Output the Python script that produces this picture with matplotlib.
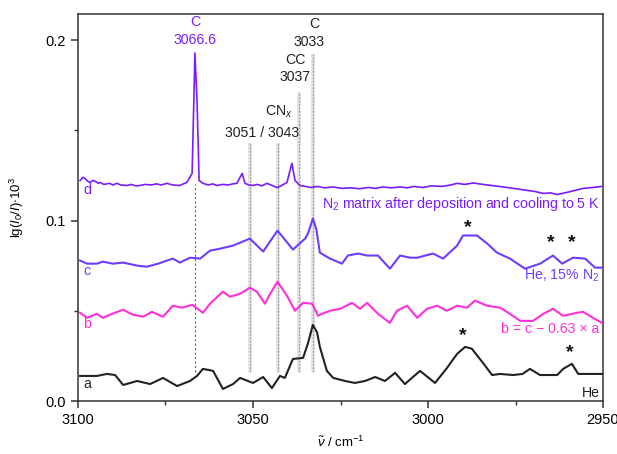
import numpy as np
import matplotlib
matplotlib.use("Agg")
import matplotlib.pyplot as plt
from matplotlib.ticker import MultipleLocator, FuncFormatter

plt.rcParams['font.family'] = ['Liberation Sans', 'DejaVu Sans']
plt.rcParams['mathtext.fontset'] = 'custom'
plt.rcParams['mathtext.rm'] = 'Liberation Sans'
plt.rcParams['mathtext.it'] = 'Liberation Sans:italic'

# trace a: He
wn_a = [3099.4, 3094.6, 3091.7, 3089.4, 3087.1, 3083.1, 3079.4, 3075.7, 3071.7, 3068.0,
        3066.0, 3064.3, 3061.4, 3058.6, 3055.7, 3053.7, 3050.0, 3047.1, 3044.6, 3042.3,
        3040.9, 3038.6, 3035.7, 3034.3, 3032.9, 3031.7, 3030.9, 3028.9, 3027.1, 3023.7,
        3020.9, 3018.0, 3015.1, 3012.3, 3009.4, 3006.6, 3002.3, 2998.0, 2994.6, 2991.7,
        2989.4, 2987.5, 2984.3, 2981.7, 2979.4, 2975.7, 2973.0, 2970.9, 2968.0, 2963.1,
        2961.4, 2958.9, 2957.1, 2953.7, 2950.3]
abs_a = [0.0139, 0.0139, 0.0150, 0.0144, 0.0089, 0.0111, 0.0094, 0.0128, 0.0083, 0.0111,
         0.0139, 0.0178, 0.0167, 0.0067, 0.0094, 0.0128, 0.0100, 0.0133, 0.0072, 0.0139,
         0.0128, 0.0233, 0.0239, 0.0320, 0.0422, 0.0380, 0.0300, 0.0167, 0.0128, 0.0111,
         0.0100, 0.0111, 0.0133, 0.0111, 0.0156, 0.0094, 0.0167, 0.0100, 0.0183, 0.0261,
         0.0300, 0.0290, 0.0211, 0.0144, 0.0150, 0.0144, 0.0150, 0.0178, 0.0144, 0.0144,
         0.0178, 0.0206, 0.0150, 0.0150, 0.0150]

# trace b = c - 0.63 * a
wn_b = [3099.4, 3097.4, 3094.6, 3092.9, 3090.9, 3087.1, 3084.3, 3081.4, 3078.9, 3075.7,
        3072.9, 3070.3, 3067.4, 3064.3, 3062.3, 3058.6, 3056.6, 3053.7, 3050.9, 3048.9,
        3046.6, 3045.1, 3043.0, 3040.3, 3038.0, 3035.7, 3033.1, 3031.4, 3030.3, 3028.0,
        3025.1, 3021.7, 3019.4, 3017.4, 3014.3, 3010.9, 3008.9, 3006.0, 3003.1, 3000.3,
        2997.4, 2994.6, 2991.7, 2988.9, 2986.6, 2983.1, 2979.4, 2976.6, 2973.7, 2970.0,
        2967.1, 2964.3, 2961.4, 2957.4, 2955.7, 2952.9, 2950.3]
abs_b = [0.0489, 0.0461, 0.0483, 0.0461, 0.0478, 0.0506, 0.0478, 0.0467, 0.0494, 0.0467,
         0.0528, 0.0517, 0.0533, 0.0489, 0.0539, 0.0606, 0.0578, 0.0594, 0.0628, 0.0606,
         0.0539, 0.0594, 0.0661, 0.0583, 0.0500, 0.0544, 0.0539, 0.0472, 0.0483, 0.0500,
         0.0511, 0.0544, 0.0511, 0.0544, 0.0483, 0.0433, 0.0500, 0.0528, 0.0461, 0.0511,
         0.0528, 0.0500, 0.0528, 0.0517, 0.0556, 0.0528, 0.0517, 0.0483, 0.0444, 0.0444,
         0.0483, 0.0511, 0.0472, 0.0489, 0.0494, 0.0461, 0.0433]

# trace c: He, 15% N2
wn_c = [3099.4, 3097.4, 3094.6, 3092.9, 3090.0, 3087.1, 3083.1, 3080.3, 3077.1, 3074.6,
        3072.9, 3070.9, 3068.0, 3065.1, 3062.3, 3059.4, 3055.7, 3050.9, 3047.1, 3043.0,
        3038.6, 3035.1, 3034.3, 3033.5, 3032.9, 3031.9, 3030.9, 3028.0, 3024.6, 3022.9,
        3020.0, 3017.4, 3014.3, 3010.9, 3008.0, 3005.1, 3003.1, 2998.6, 2995.7, 2991.7,
        2990.0, 2986.0, 2983.1, 2980.3, 2976.6, 2972.3, 2968.0, 2964.3, 2961.7, 2958.6,
        2955.1, 2952.3, 2950.3]
abs_c = [0.0778, 0.0761, 0.0761, 0.0772, 0.0761, 0.0767, 0.0750, 0.0744, 0.0761, 0.0778,
         0.0789, 0.0767, 0.0794, 0.0789, 0.0833, 0.0844, 0.0861, 0.0900, 0.0828, 0.0944,
         0.0839, 0.0900, 0.0928, 0.0975, 0.1011, 0.0950, 0.0822, 0.0789, 0.0761, 0.0806,
         0.0817, 0.0806, 0.0806, 0.0733, 0.0806, 0.0794, 0.0794, 0.0817, 0.0789, 0.0861,
         0.0917, 0.0917, 0.0872, 0.0822, 0.0789, 0.0733, 0.0761, 0.0806, 0.0761, 0.0794,
         0.0789, 0.0739, 0.0739]

# trace d: N2 matrix after deposition
wn_d = [3099.4, 3098.6, 3098.0, 3097.2, 3096.6, 3095.8, 3095.0, 3094.2, 3093.7, 3092.6,
        3091.0, 3090.0, 3088.9, 3087.8, 3086.0, 3084.8, 3083.5, 3082.3, 3080.9, 3079.0,
        3077.6, 3076.2, 3074.6, 3073.0, 3071.0, 3069.9, 3068.9, 3067.4, 3066.9, 3066.6,
        3066.0, 3065.4, 3064.3, 3062.8, 3061.5, 3060.3, 3058.8, 3057.0, 3055.8, 3054.6,
        3053.1, 3052.3, 3051.2, 3050.0, 3048.8, 3047.5, 3046.0, 3044.5, 3043.2, 3042.3,
        3040.3, 3038.9, 3038.0, 3036.6, 3035.0, 3033.4, 3031.7, 3029.5, 3027.0, 3024.6,
        3022.0, 3019.5, 3017.0, 3015.0, 3013.0, 3010.5, 3008.0, 3006.0, 3004.0, 3001.5,
        2999.0, 2996.0, 2993.5, 2991.7, 2989.5, 2987.1, 2984.3, 2981.0, 2977.4, 2974.5,
        2971.7, 2969.5, 2967.1, 2965.0, 2963.1, 2960.3, 2958.0, 2955.7, 2952.9, 2950.3]
abs_d = [0.1222, 0.1239, 0.1233, 0.1217, 0.1211, 0.1222, 0.1217, 0.1206, 0.1211, 0.1200,
         0.1206, 0.1197, 0.1206, 0.1197, 0.1194, 0.1200, 0.1192, 0.1194, 0.1200, 0.1197,
         0.1203, 0.1197, 0.1206, 0.1197, 0.1194, 0.1203, 0.1211, 0.1261, 0.1667, 0.1928,
         0.1667, 0.1222, 0.1206, 0.1197, 0.1203, 0.1194, 0.1200, 0.1197, 0.1203, 0.1206,
         0.1261, 0.1206, 0.1197, 0.1194, 0.1200, 0.1192, 0.1206, 0.1194, 0.1183, 0.1189,
         0.1211, 0.1317, 0.1222, 0.1194, 0.1189, 0.1183, 0.1189, 0.1181, 0.1186, 0.1178,
         0.1181, 0.1176, 0.1183, 0.1178, 0.1186, 0.1181, 0.1186, 0.1181, 0.1189, 0.1183,
         0.1192, 0.1189, 0.1197, 0.1206, 0.1200, 0.1208, 0.1200, 0.1192, 0.1183, 0.1175,
         0.1167, 0.1161, 0.1150, 0.1153, 0.1144, 0.1156, 0.1167, 0.1178, 0.1183, 0.1189]

# assignment lines: position and top end of each line
line_pos = [3066.6, 3051, 3043, 3037, 3033]
line_top = [0.120, 0.143, 0.143, 0.171, 0.192]
line_bottom = 0.016

col_a = '#222222'
col_b = '#ff2fd8'
col_c = '#6f3cff'
col_d = '#7a1cff'

fig = plt.figure(figsize=(6.17, 4.54), dpi=100)
ax = fig.add_axes([0.1264, 0.1167, 0.851, 0.8524])

# reference lines
ax.vlines(line_pos[0], line_bottom, line_top[0], colors='#666666', linestyles=(0, (2, 2)), lw=0.8, zorder=1)
for p, t in zip(line_pos[1:], line_top[1:]):
    ax.vlines(p, line_bottom, t, colors='#e0e0e0', lw=2.6, zorder=1)
    ax.vlines(p, line_bottom, t, colors='#9a9a9a', linestyles=(0, (1.5, 1.5)), lw=0.8, zorder=1)

ax.plot(wn_a, abs_a, color=col_a, lw=1.5, zorder=3, solid_joinstyle='round')
ax.plot(wn_b, abs_b, color=col_b, lw=1.5, zorder=3, solid_joinstyle='round')
ax.plot(wn_c, abs_c, color=col_c, lw=1.5, zorder=3, solid_joinstyle='round')
ax.plot(wn_d, abs_d, color=col_d, lw=1.2, zorder=3, solid_joinstyle='round')

ax.set_xlim(3100, 2950)
ax.set_ylim(0.0, 0.2144)
ax.xaxis.set_major_locator(MultipleLocator(50))
ax.xaxis.set_minor_locator(MultipleLocator(25))
ax.yaxis.set_major_locator(MultipleLocator(0.1))
ax.yaxis.set_minor_locator(MultipleLocator(0.05))
ax.tick_params(which='major', direction='out', length=5, width=1.1, labelsize=10.5, color='#333333')
ax.tick_params(which='minor', direction='out', length=3, width=1.0, color='#333333')
ax.xaxis.set_major_formatter(FuncFormatter(lambda v, p: '%d' % v))
ax.yaxis.set_major_formatter(FuncFormatter(lambda v, p: '%.1f' % v))
for s in ax.spines.values():
    s.set_linewidth(1.1)
    s.set_color('#333333')

ax.set_xlabel(r'$\tilde{\nu}$ / cm$^{-1}$', fontsize=9.5, labelpad=6)
ax.set_ylabel(r'lg($I_0$/$I$)$\cdot$10$^3$', fontsize=9.5, labelpad=14)

fs = 10.2
# peak annotations
ax.text(3066.6, 0.2100, 'C', color=col_d, ha='center', va='center', fontsize=fs)
ax.text(3066.6, 0.2000, '3066.6', color=col_d, ha='center', va='center', fontsize=fs)
ax.text(3042.5, 0.1600, r'CN$_x$', color='#222222', ha='center', va='center', fontsize=fs)
ax.text(3047.5, 0.1483, '3051 / 3043', color='#222222', ha='center', va='center', fontsize=fs)
ax.text(3038.0, 0.1890, 'CC', color='#222222', ha='center', va='center', fontsize=fs)
ax.text(3038.0, 0.1795, '3037', color='#222222', ha='center', va='center', fontsize=fs)
ax.text(3032.6, 0.2090, 'C', color='#222222', ha='center', va='center', fontsize=fs)
ax.text(3034.0, 0.1990, '3033', color='#222222', ha='center', va='center', fontsize=fs)

# trace labels
ax.text(3098.5, 0.1167, 'd', color=col_d, ha='left', va='center', fontsize=fs)
ax.text(3098.5, 0.0722, 'c', color=col_c, ha='left', va='center', fontsize=fs)
ax.text(3098.5, 0.0428, 'b', color=col_b, ha='left', va='center', fontsize=fs)
ax.text(3098.5, 0.0094, 'a', color=col_a, ha='left', va='center', fontsize=fs)
ax.text(2951, 0.1089, r'N$_2$ matrix after deposition and cooling to 5 K', color=col_d,
        ha='right', va='center', fontsize=fs)
ax.text(2951, 0.0694, r'He, 15% N$_2$', color=col_c, ha='right', va='center', fontsize=fs)
ax.text(2951, 0.0400, 'b = c \u2212 0.63 \u00d7 a', color=col_b, ha='right', va='center', fontsize=fs)
ax.text(2951, 0.0044, 'He', color=col_a, ha='right', va='center', fontsize=fs)

# asterisks
for x, y in [(2988.6, 0.0960), (2964.9, 0.0880), (2958.9, 0.0880), (2990.0, 0.0360), (2959.4, 0.0270)]:
    ax.text(x, y, '*', color='#111111', ha='center', va='center', fontsize=14, fontweight='bold')

fig.savefig('out.png', dpi=100)
